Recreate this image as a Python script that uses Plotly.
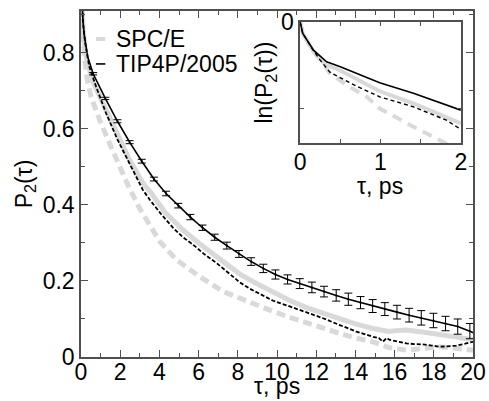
import plotly.graph_objects as go

# ---------------- main panel data ----------------
# TIP4P/2005, solid (with error bars)
tip_solid_x = [0, 0.04, 0.1, 0.17, 0.34,
               0.62, 1.24, 1.86, 2.48, 3.10, 3.72, 4.34, 4.96, 5.58, 6.20, 6.82, 7.44,
               8.06, 8.68, 9.30, 9.92, 10.54, 11.16, 11.78, 12.40, 13.02, 13.64, 14.26,
               14.88, 15.50, 16.12, 16.74, 17.36, 17.98, 18.60, 19.22, 19.84, 20.0]
tip_solid_y = [1.0, 0.93, 0.885, 0.845, 0.79,
               0.745, 0.68, 0.62, 0.565, 0.515, 0.468, 0.43, 0.398, 0.368, 0.34, 0.315, 0.293,
               0.271, 0.251, 0.233, 0.217, 0.204, 0.193, 0.183, 0.172, 0.162, 0.152, 0.143,
               0.134, 0.126, 0.118, 0.11, 0.103, 0.096, 0.088, 0.08, 0.068, 0.064]

err_x = [0.62, 1.24, 1.86, 2.48, 3.10, 3.72, 4.34, 4.96, 5.58, 6.20, 6.82, 7.44,
         8.06, 8.68, 9.30, 9.92, 10.54, 11.16, 11.78, 12.40, 13.02, 13.64, 14.26,
         14.88, 15.50, 16.12, 16.74, 17.36, 17.98, 18.60, 19.22, 19.84]
err_y = [0.745, 0.68, 0.62, 0.565, 0.515, 0.468, 0.43, 0.398, 0.368, 0.34, 0.315, 0.293,
         0.271, 0.251, 0.233, 0.217, 0.204, 0.193, 0.183, 0.172, 0.162, 0.152, 0.143,
         0.134, 0.126, 0.118, 0.11, 0.103, 0.096, 0.088, 0.08, 0.068]
err_val = [0.003, 0.003, 0.004, 0.004, 0.005, 0.005, 0.006, 0.006, 0.007, 0.007, 0.008, 0.009,
           0.009, 0.010, 0.011, 0.012, 0.012, 0.013, 0.014, 0.014, 0.015, 0.016, 0.016,
           0.017, 0.017, 0.018, 0.018, 0.019, 0.019, 0.019, 0.020, 0.020]

# TIP4P/2005, dashed
tip_dash_x = [0, 0.04, 0.1, 0.2, 0.42, 0.77, 1.28, 1.87, 2.46, 3.15, 3.52, 4.1, 4.71, 5.2,
              5.73, 6.3, 6.92, 7.5, 8.11, 8.6, 9.13, 9.8, 10.65, 11.5, 12.35, 13.2, 14.05,
              14.9, 15.2, 15.4, 15.6, 15.75, 16.2, 16.6, 17.0, 17.45, 17.9, 18.3, 18.7,
              19.15, 19.6, 20.0]
tip_dash_y = [1.0, 0.93, 0.88, 0.83, 0.764, 0.711, 0.641, 0.571, 0.51, 0.44, 0.413, 0.375,
              0.339, 0.315, 0.295, 0.27, 0.247, 0.222, 0.196, 0.18, 0.165, 0.148, 0.133,
              0.118, 0.102, 0.084, 0.067, 0.053, 0.05, 0.04, 0.05, 0.045, 0.04, 0.036,
              0.034, 0.033, 0.03, 0.027, 0.028, 0.03, 0.035, 0.04]

# SPC/E, solid
spc_solid_x = [0, 0.04, 0.1, 0.2, 0.3, 0.6, 1.28, 1.87, 2.46, 3.15, 3.52, 4.3, 5.2, 6.0,
               6.9, 7.5, 8.1, 9.0, 9.8, 10.6, 11.5, 12.4, 13.2, 14.0, 14.9, 15.7, 16.2,
               16.6, 17.4, 18.3, 19.1, 20.0]
spc_solid_y = [1.0, 0.92, 0.865, 0.815, 0.78, 0.725, 0.65, 0.58, 0.52, 0.458, 0.435, 0.38,
               0.334, 0.30, 0.265, 0.242, 0.218, 0.192, 0.17, 0.15, 0.13, 0.114, 0.1,
               0.087, 0.075, 0.067, 0.07, 0.071, 0.066, 0.06, 0.053, 0.045]

# SPC/E, dashed
spc_dash_x = [0, 0.04, 0.1, 0.2, 0.3, 0.51, 0.94, 1.53, 2.04, 2.46, 3.0, 3.52, 4.03, 4.88,
              6.07, 7.26, 8.45, 9.6, 10.6, 11.5, 12.4, 13.2, 14.0, 14.9, 15.7, 16.6, 17.4,
              18.3, 19.1, 20.0]
spc_dash_y = [1.0, 0.91, 0.85, 0.78, 0.735, 0.685, 0.625, 0.553, 0.492, 0.445, 0.39, 0.343,
              0.303, 0.255, 0.211, 0.172, 0.146, 0.124, 0.105, 0.089, 0.075, 0.062, 0.05,
              0.04, 0.025, 0.018, 0.022, 0.027, 0.023, 0.018]

# ---------------- inset data: ln(P2) ----------------
in_tip_solid_x = [0, 0.033, 0.166, 0.33, 0.5, 0.7, 0.99, 1.41, 1.82, 2.0]
in_tip_solid_y = [0, -0.066, -0.162, -0.23, -0.258, -0.297, -0.351, -0.412, -0.48, -0.509]
in_tip_dash_x = [0, 0.033, 0.166, 0.25, 0.37, 0.5, 0.7, 0.99, 1.41, 1.82, 2.0]
in_tip_dash_y = [0, -0.066, -0.165, -0.22, -0.29, -0.32, -0.37, -0.432, -0.49, -0.567, -0.62]
in_spc_solid_x = [0, 0.033, 0.166, 0.3, 0.5, 0.7, 0.99, 1.41, 1.82, 2.0]
in_spc_solid_y = [0, -0.066, -0.17, -0.24, -0.28, -0.33, -0.40, -0.47, -0.548, -0.586]
in_spc_dash_x = [0, 0.033, 0.166, 0.29, 0.37, 0.6, 0.83, 0.99, 1.41, 1.74, 1.85]
in_spc_dash_y = [0, -0.066, -0.17, -0.24, -0.295, -0.37, -0.432, -0.5, -0.605, -0.68, -0.71]

x_ticks = [0, 2, 4, 6, 8, 10, 12, 14, 16, 18, 20]
y_ticks = [0, 0.2, 0.4, 0.6, 0.8]
y_tick_text = ["0", "0.2", "0.4", "0.6", "0.8"]
inset_x_ticks = [0, 1, 2]
inset_y_ticks = [0, -0.5]
inset_y_text = ["0", " "]
legend_names = ["SPC/E", "TIP4P/2005"]

GRAY = "#d9d9d9"
FONT = "Liberation Sans, Arial, Helvetica, sans-serif"
AX = "#505050"
FS = 23

fig = go.Figure()

# main panel
fig.add_trace(go.Scatter(x=spc_solid_x, y=spc_solid_y, mode="lines",
                         line=dict(color=GRAY, width=5), showlegend=False))
fig.add_trace(go.Scatter(x=spc_dash_x, y=spc_dash_y, mode="lines", name=legend_names[0],
                         line=dict(color=GRAY, width=5, dash="9px,5px"), showlegend=False))
fig.add_trace(go.Scatter(x=tip_dash_x, y=tip_dash_y, mode="lines",
                         line=dict(color="black", width=1.8, dash="4px,2px"), showlegend=False))
fig.add_trace(go.Scatter(x=tip_solid_x, y=tip_solid_y, mode="lines", name=legend_names[1],
                         line=dict(color="black", width=1.6), showlegend=False))
fig.add_trace(go.Scatter(x=err_x, y=err_y, mode="markers", showlegend=False,
                         marker=dict(color="black", size=2),
                         error_y=dict(type="data", array=err_val, visible=True,
                                      color="black", thickness=1, width=4)))

# inset
fig.add_trace(go.Scatter(x=in_spc_solid_x, y=in_spc_solid_y, mode="lines", xaxis="x2", yaxis="y2",
                         line=dict(color=GRAY, width=4), showlegend=False))
fig.add_trace(go.Scatter(x=in_spc_dash_x, y=in_spc_dash_y, mode="lines", xaxis="x2", yaxis="y2",
                         line=dict(color=GRAY, width=4, dash="10px,7px"), showlegend=False))
fig.add_trace(go.Scatter(x=in_tip_dash_x, y=in_tip_dash_y, mode="lines", xaxis="x2", yaxis="y2",
                         line=dict(color="black", width=1.4, dash="4px,3px"), showlegend=False))
fig.add_trace(go.Scatter(x=in_tip_solid_x, y=in_tip_solid_y, mode="lines", xaxis="x2", yaxis="y2",
                         line=dict(color="black", width=1.6), showlegend=False))

axis_common = dict(showline=True, linecolor=AX, linewidth=1.5, mirror="allticks",
                   ticks="inside", tickcolor=AX, showgrid=False, zeroline=False,
                   automargin=False,
                   tickfont=dict(size=FS, color="black", family=FONT))

# hand-built legend (short sample lines as in the original)
legend_y = [0.919, 0.847]
legend_colors = [GRAY, "black"]
legend_widths = [4, 1.6]
shapes = []
annotations = []
for name, yy, col, w in zip(legend_names, legend_y, legend_colors, legend_widths):
    shapes.append(dict(type="line", xref="paper", yref="paper", x0=0.038, x1=0.062,
                       y0=yy, y1=yy, line=dict(color=col, width=w)))
    annotations.append(dict(text=name, xref="paper", yref="paper", x=0.084, y=yy,
                            xanchor="left", yanchor="middle", showarrow=False,
                            font=dict(size=FS, family=FONT, color="black")))

# axis titles placed tight under their tick labels, as in the original
annotations.append(dict(text="τ, ps", xref="x2 domain", yref="y2 domain", x=0.5, y=-0.35,
                        xanchor="center", yanchor="middle", showarrow=False,
                        font=dict(size=FS, family=FONT, color="black")))
annotations.append(dict(text="τ, ps", xref="x domain", yref="y domain", x=0.5, y=-0.127,
                        xanchor="center", yanchor="bottom", showarrow=False,
                        font=dict(size=FS, family=FONT, color="black")))

fig.update_layout(
    width=489, height=401,
    margin=dict(l=81, r=16, t=11, b=44),
    paper_bgcolor="white", plot_bgcolor="white",
    font=dict(family=FONT, size=FS, color="black"),
    showlegend=False,
    xaxis=dict(domain=[0, 1], range=[0, 20], tickvals=x_ticks, ticklen=7, ticklabelstandoff=-6,
               minor=dict(dtick=1, ticklen=4, ticks="inside", tickcolor=AX),
               **axis_common),
    yaxis=dict(domain=[0, 1], range=[0, 0.91], tickvals=y_ticks, ticktext=y_tick_text, ticklen=7,
               minor=dict(dtick=0.1, ticklen=4, ticks="inside", tickcolor=AX),
               title=dict(text="P<sub>2</sub>(τ)", font=dict(size=FS), standoff=4), **axis_common),
    xaxis2=dict(domain=[0.559, 0.969], anchor="y2", range=[0, 2], tickvals=inset_x_ticks, ticklen=4,
                ticklabelstandoff=-3,
                minor=dict(dtick=0.5, ticklen=4, ticks="inside", tickcolor=AX),
                **axis_common),
    yaxis2=dict(domain=[0.618, 0.968], anchor="x2", range=[-0.7, 0], tickvals=inset_y_ticks,
                ticktext=inset_y_text, ticklen=4,
                title=dict(text="ln(P<sub>2</sub>(τ))", font=dict(size=FS), standoff=2), **axis_common),
    shapes=shapes,
    annotations=annotations,
)

fig.write_html("out.html")
